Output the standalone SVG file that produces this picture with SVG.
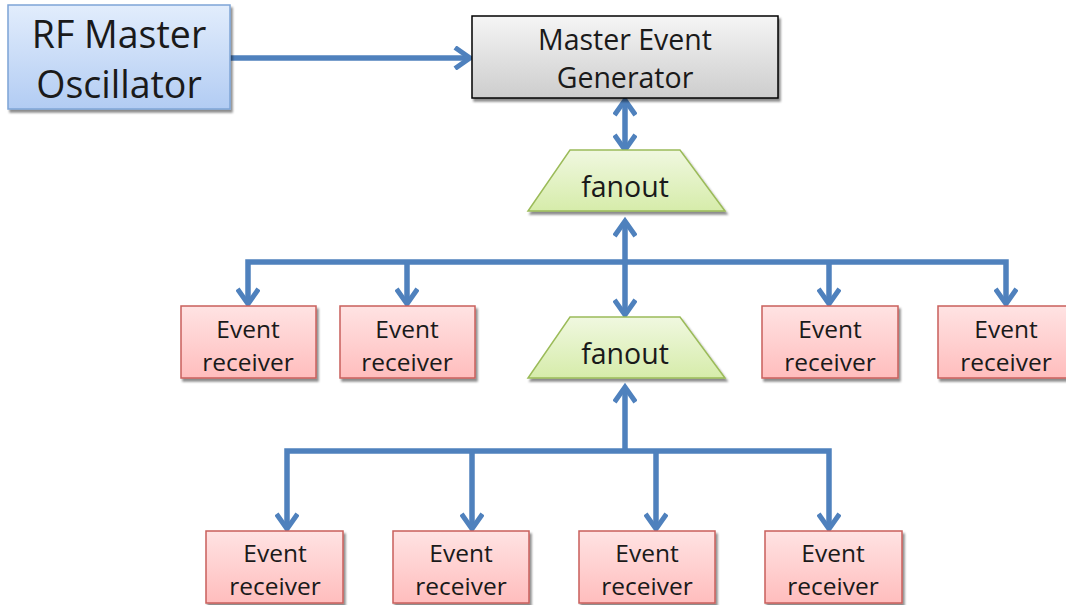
<svg xmlns="http://www.w3.org/2000/svg" width="1066" height="605" viewBox="0 0 1066 605">
<defs>
<linearGradient id="gBlue" x1="0" y1="0" x2="0" y2="1"><stop offset="0" stop-color="#e2edfc"/><stop offset="1" stop-color="#b2ccf3"/></linearGradient>
<linearGradient id="gGray" x1="0" y1="0" x2="0" y2="1"><stop offset="0" stop-color="#f5f5f5"/><stop offset="1" stop-color="#cdcdcd"/></linearGradient>
<linearGradient id="gRed" x1="0" y1="0" x2="0" y2="1"><stop offset="0" stop-color="#ffe3e3"/><stop offset="1" stop-color="#ffbdbd"/></linearGradient>
<linearGradient id="gGreen" x1="0" y1="0" x2="0" y2="1"><stop offset="0" stop-color="#f0f8e0"/><stop offset="1" stop-color="#d6ecaa"/></linearGradient>
<filter id="sh" x="-10%" y="-10%" width="130%" height="140%"><feDropShadow dx="2" dy="3" stdDeviation="1.2" flood-color="#000" flood-opacity="0.45"/></filter>
<marker id="ah" viewBox="0 0 24 24" refX="19" refY="12" markerWidth="24" markerHeight="24" markerUnits="userSpaceOnUse" orient="auto-start-reverse">
<polyline points="4,1.5 19,12 4,22.5" fill="none" stroke="#4f81bd" stroke-width="5"/>
</marker>
<style>
.t{font-family:"Open Sans","Liberation Sans",sans-serif;fill:#1a1a1a;text-anchor:middle}
.r{font-size:24.5px}
.c{fill:none;stroke:#4f81bd;stroke-width:5.5}
.rec{fill:url(#gRed);stroke:#c95f5c;stroke-width:1.5;filter:url(#sh)}
.fan{fill:url(#gGreen);stroke:#9bbb59;stroke-width:1.5;filter:url(#sh)}
</style>
</defs>
<rect width="1066" height="605" fill="#fff"/>

<g id="connectors">
<line class="c" x1="230" y1="58" x2="470" y2="58" stroke-width="6" marker-end="url(#ah)"/>
<line class="c" x1="625" y1="100" x2="625" y2="150" marker-start="url(#ah)" marker-end="url(#ah)"/>
<polyline class="c" points="248,304 248,262 1006,262 1006,304" marker-start="url(#ah)" marker-end="url(#ah)"/>
<line class="c" x1="407" y1="262" x2="407" y2="304" marker-end="url(#ah)"/>
<line class="c" x1="829" y1="262" x2="829" y2="304" marker-end="url(#ah)"/>
<line class="c" x1="625" y1="262" x2="625" y2="315" marker-end="url(#ah)"/>
<line class="c" x1="625" y1="262" x2="625" y2="221" marker-end="url(#ah)"/>
<polyline class="c" points="287,529 287,451 829,451 829,529" marker-start="url(#ah)" marker-end="url(#ah)"/>
<line class="c" x1="472" y1="451" x2="472" y2="529" marker-end="url(#ah)"/>
<line class="c" x1="656" y1="451" x2="656" y2="529" marker-end="url(#ah)"/>
<line class="c" x1="625" y1="451" x2="625" y2="387" marker-end="url(#ah)"/>
</g>

<g id="rf">
<rect x="8" y="5" width="222" height="104" fill="url(#gBlue)" stroke="#7ea4d6" stroke-width="1.5" filter="url(#sh)"/>
<text class="t" x="119" y="48" font-size="37.5">RF Master</text>
<text class="t" x="119" y="98" font-size="37.5">Oscillator</text>
</g>

<g id="meg">
<rect x="472" y="16" width="306" height="82" fill="url(#gGray)" stroke="#000" stroke-width="1.5" filter="url(#sh)"/>
<text class="t" x="625" y="50" font-size="28.5">Master Event</text>
<text class="t" x="625" y="88" font-size="28.5">Generator</text>
</g>

<g id="fanout1">
<polygon class="fan" points="570,150 680,150 725,211 528,211"/>
<text class="t" x="625" y="197" font-size="28.5">fanout</text>
</g>

<g id="fanout2">
<polygon class="fan" points="570,317 680,317 725,378 528,378"/>
<text class="t" x="625" y="364" font-size="28.5">fanout</text>
</g>

<g id="er1"><rect class="rec" x="181" y="306" width="135" height="72"/><text class="t r" x="248" y="338">Event</text><text class="t r" x="248" y="371">receiver</text></g>
<g id="er2"><rect class="rec" x="340" y="306" width="135" height="72"/><text class="t r" x="407" y="338">Event</text><text class="t r" x="407" y="371">receiver</text></g>
<g id="er3"><rect class="rec" x="762" y="306" width="136" height="72"/><text class="t r" x="830" y="338">Event</text><text class="t r" x="830" y="371">receiver</text></g>
<g id="er4"><rect class="rec" x="938" y="306" width="135" height="72"/><text class="t r" x="1006" y="338">Event</text><text class="t r" x="1006" y="371">receiver</text></g>
<g id="er5"><rect class="rec" x="206" y="531" width="137" height="72"/><text class="t r" x="275" y="562">Event</text><text class="t r" x="275" y="595">receiver</text></g>
<g id="er6"><rect class="rec" x="393" y="531" width="136" height="72"/><text class="t r" x="461" y="562">Event</text><text class="t r" x="461" y="595">receiver</text></g>
<g id="er7"><rect class="rec" x="579" y="531" width="136" height="72"/><text class="t r" x="647" y="562">Event</text><text class="t r" x="647" y="595">receiver</text></g>
<g id="er8"><rect class="rec" x="765" y="531" width="137" height="72"/><text class="t r" x="833" y="562">Event</text><text class="t r" x="833" y="595">receiver</text></g>
</svg>
